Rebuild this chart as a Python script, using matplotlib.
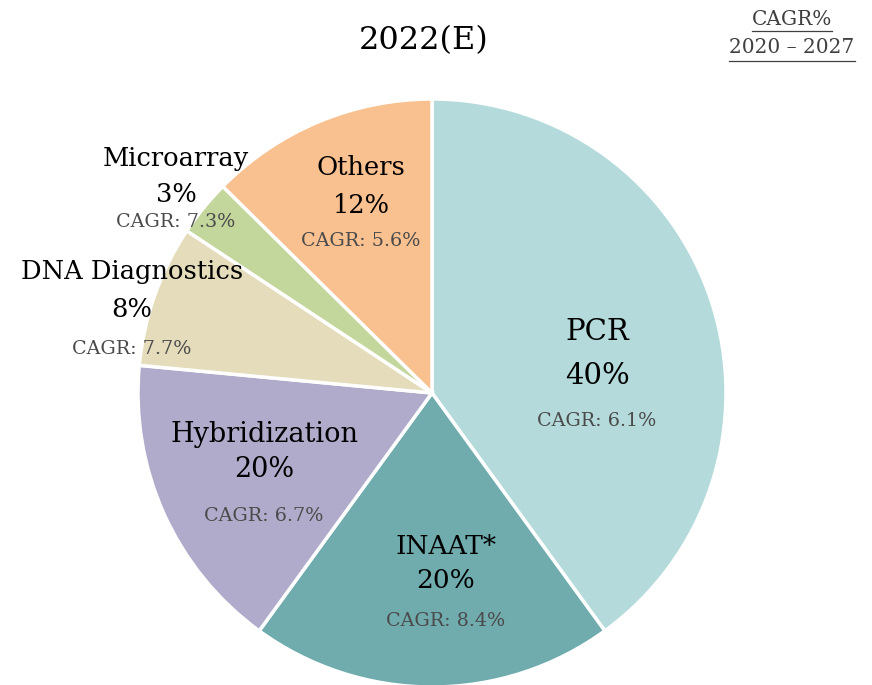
import matplotlib
matplotlib.use("Agg")
import matplotlib.pyplot as plt
from matplotlib.lines import Line2D
from matplotlib.transforms import IdentityTransform

segments = ["PCR", "INAAT*", "Hybridization", "DNA Diagnostics", "Microarray", "Others"]
shares = [40.0, 20.0, 16.5, 7.8, 3.1, 12.6]
shown_pct = ["40%", "20%", "20%", "8%", "3%", "12%"]
cagr = ["6.1%", "8.4%", "6.7%", "7.7%", "7.3%", "5.6%"]
colors = ["#b4dadb", "#70abae", "#b0abca", "#e5dcbb", "#c3d69b", "#f9c090"]

title = "2022(E)"
header = ["CAGR%", "2020 \u2013 2027"]

# label layout in pixels (x, name y, pct y, cagr y), name size
label_pos = [
    (597, 332, 376, 421, 21),
    (446, 546, 581, 621, 19),
    (264, 434, 469, 516, 19.5),
    (132, 271, 309, 349, 18.5),
    (176, 158, 194, 222, 18.5),
    (361, 167, 205, 241, 18.5),
]

W, H = 872, 685
plt.rcParams["font.family"] = ["DejaVu Serif"]

fig = plt.figure(figsize=(W / 100, H / 100), dpi=100)
ax = fig.add_axes([0, 0, 1, 1])

ax.pie(shares, colors=colors, startangle=-90, counterclock=True,
       center=(432, 393), radius=294,
       wedgeprops=dict(edgecolor="white", linewidth=2.5))
ax.set_xlim(0, W)
ax.set_ylim(H, 0)
ax.set_aspect("equal")
ax.axis("off")

for i, name in enumerate(segments):
    x, yn, yp, yc, fs = label_pos[i]
    ax.text(x, yn, name, ha="center", va="center", fontsize=fs, color="black")
    ax.text(x, yp, shown_pct[i], ha="center", va="center", fontsize=fs, color="black")
    ax.text(x, yc, "CAGR: " + cagr[i], ha="center", va="center", fontsize=13.8, color="#4a4a4a")

ax.text(424, 41, title, ha="center", va="center", fontsize=23, color="black")

hdr = []
hdr.append(ax.text(792, 19, header[0], ha="center", va="center", fontsize=14.5, color="#404040"))
hdr.append(ax.text(792, 47, header[1], ha="center", va="center", fontsize=14.5, color="#404040"))

# underline the header lines
fig.canvas.draw()
r = fig.canvas.get_renderer()
for t, yl in zip(hdr, [31, 61]):
    bb = t.get_window_extent(r)
    fig.add_artist(Line2D([bb.x0, bb.x1], [H - yl, H - yl], color="#404040",
                          linewidth=0.9, transform=IdentityTransform()))

fig.savefig("out.png", dpi=100)
